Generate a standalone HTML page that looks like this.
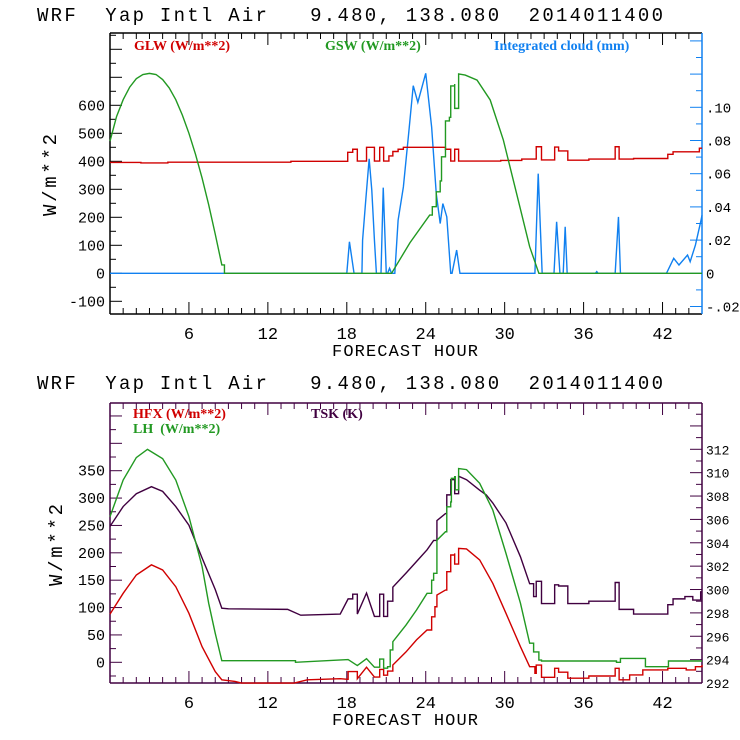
<!DOCTYPE html>
<html><head><meta charset="utf-8"><style>
body{margin:0;background:#fff;}
svg{display:block;}
svg text{white-space:pre;}
.mono{font-family:"Liberation Mono",monospace;}
.leg{font-family:"Liberation Serif",serif;font-weight:bold;font-size:14px;}
</style></head><body>
<svg id="chart" width="740" height="740" xmlns="http://www.w3.org/2000/svg" xml:space="preserve">
<rect width="740" height="740" fill="#fff"/>
<g id="g"></g>
</svg>
<script>
// ---------- data (hour, value) ----------
const xTicks=[6,12,18,24,30,36,42];
const topLeftTicks=[-100,0,100,200,300,400,500,600];
const topRightTicks=[-0.02,0,0.02,0.04,0.06,0.08,0.10];
const topRightLabels=["-.02","0",".02",".04",".06",".08",".10"];
const botLeftTicks=[0,50,100,150,200,250,300,350];
const botRightTicks=[292,294,296,298,300,302,304,306,308,310,312];

const gswH=[0,0.5,1,1.5,2,2.5,3,3.5,4,4.5,5,5.5,6,6.5,7,7.5,8,8.5,8.7,21.4,22.8,24.3,24.5,24.8,24.8,25.1,25.2,25.5,25.5,25.8,25.9,26.2,26.2,26.5,26.5,27.0,27.9,28.9,29.9,30.9,31.9,32.6,45];
const gswV=[472,560,620,665,695,710,714,710,692,662,620,565,500,425,340,245,140,30,0,0,109,208,238,260,291,330,416,446,544,557,669,676,589,589,712,708,690,619,476,286,95,0,0];

const glwH=[0,2.35,4.4,13.75,18.07,18.45,18.8,19.5,20.1,20.5,20.8,21.2,21.5,21.9,22.3,25.5,25.9,26.2,26.5,29.7,31.3,32.4,32.8,33.8,34.1,34.8,36.4,38.4,38.7,39.8,42.4,42.8,44.8,45];
const glwV=[396,394,397,400,432,443,401,450,401,450,401,419,435,443,450,443,401,443,401,403,408,452,405,451,437,404,408,452,408,410,425,434,447,447];

const cldH=[0,18.0,18.2,18.55,19.15,19.2,19.45,19.7,19.9,20.1,20.25,20.6,20.77,21.0,21.1,21.25,21.4,21.65,21.9,22.3,22.7,23.05,23.4,24.0,24.45,24.8,25.1,25.3,25.6,25.9,26.0,26.35,26.6,32.3,32.55,32.85,33.75,33.95,34.2,34.45,34.6,34.75,36.9,37.0,37.1,38.4,38.65,38.8,42.3,42.85,43.25,43.9,44.1,44.5,44.9,45];
const cldV=[0,0,0.019,0,0,0.02,0.045,0.069,0.05,0.02,0,0,0.0516,0,0,0.003,0,0,0.032,0.052,0.084,0.113,0.103,0.1205,0.088,0.048,0.030,0.042,0.034,0,0,0.014,0,0,0.060,0,0,0.031,0,0,0.028,0,0,0.001,0,0,0.034,0,0,0.009,0.005,0.011,0.007,0.017,0.031,0.035];

const lhH=[0,1,2,2.85,4,5,6,7,7.5,8,8.5,14,14.1,18.1,18.8,19.5,20.1,20.5,20.8,21.1,21.3,21.5,22.5,23.3,24.1,24.45,24.6,24.85,25.5,25.6,25.9,25.95,26.2,26.25,26.5,26.5,27.1,28.1,29.1,30.1,31.2,31.9,32.2,32.6,32.8,35,38.5,38.8,40.7,42.4,42.45,45];
const lhV=[266,333,374,389,372,333,266,175,108,53,3,3,0,5,-6,6.7,-9,6,-10.7,-8,22.5,37.6,68,95.5,126,150,162.5,223,238.5,284,293,336,339,315,315,354,352,327,278,199,108,35,19,4,2.4,2.4,0,7,-8,-8,2.4,2.4];

const hfxH=[0,1,2,3.15,4,5,6,7,8,8.5,9.5,10,14,15,17.5,18.05,18.1,18.45,18.8,19.5,20.1,20.5,20.8,21.1,21.5,22.5,23.3,24.1,24.45,24.7,24.85,25.5,25.6,25.9,26.2,26.2,26.5,26.5,27.1,28.1,29.1,30.1,31.2,31.9,32.3,32.4,32.4,32.8,32.8,33.8,34.1,34.8,36.4,38.4,38.7,39.5,40.5,42.4,43.8,44.5,45];
const hfxV=[88,126,159.5,178,168.6,138,89.5,28.5,-17,-32,-35,-38,-38,-32,-30,-31,-17,-17,-30,-9,-27,-13,-23.5,-16,-5,19,41,59,83,101.5,123,132,165.5,196,199,179.5,179.5,208,207,187,144,89.5,28.5,-8,-20,-20,-5,-5,-27.5,-11,-18,-29,-25,-11,-32,-23,-14,-11,-14,-8,-5];

const tskH=[0,1,2,3.15,4,5,6,7,8,8.5,9,13.5,14.5,17.5,18.1,18.45,18.8,19.5,20.1,20.5,20.8,21.1,21.5,22.5,23.3,24.1,24.6,24.85,25.5,25.6,25.9,26.2,26.2,26.5,26.5,27.1,28.1,28.6,29.1,30.1,31.2,31.9,32.2,32.4,32.4,32.8,33.8,34.1,34.8,36.4,38.4,38.7,39.8,42.4,42.8,43.7,44.3,44.9,45];
const tskV=[305.4,307.1,308.2,308.8,308.4,307.1,305.5,302.7,300.0,298.4,298.35,298.3,297.8,297.9,299.2,299.6,297.9,299.7,297.7,299.6,297.7,299.0,300.2,301.4,302.4,303.4,304.2,305.9,306.5,308.1,309.4,309.4,308.2,308.2,309.7,309.4,308.5,308.1,307.4,305.7,302.8,300.5,299.4,299.4,300.7,298.8,300.4,300.3,298.8,299.0,300.6,298.3,297.9,298.7,299.2,299.4,299.1,299.8,299.8];

// ---------- drawing ----------
const NS="http://www.w3.org/2000/svg";
const root=document.getElementById('g');
function el(tag,attrs,parent){const e=document.createElementNS(NS,tag);for(const k in attrs)e.setAttribute(k,attrs[k]);(parent||root).appendChild(e);return e;}
function txt(s,attrs,parent){const e=el('text',attrs,parent);e.textContent=s;return e;}
const X0=110,X1=702,HMAX=45;
const xs=h=>X0+(X1-X0)*h/HMAX;
function lin(d0,d1,p0,p1){return v=>p0+(v-d0)*(p1-p0)/(d1-d0);}

// step: true = always; number = step when hour gap <= number; stepFrom: always step from that hour on
function series(H,V,ys,color,name,step,parent,stepFrom){
  let d='';
  for(let i=0;i<H.length;i++){
    const x=xs(H[i]).toFixed(2),y=ys(V[i]).toFixed(2);
    if(i===0)d='M'+x+' '+y;
    else if(step===true||(typeof step==='number'&&H[i]-H[i-1]<=step)||(stepFrom!==undefined&&H[i-1]>=stepFrom)){d+=' H'+x+' V'+y;}
    else d+=' L'+x+' '+y;
  }
  const p=el('path',{d:d,fill:'none',stroke:color,'stroke-width':1.4},parent);
  
  
}

function panel(o){
  const g=el('g',{});
  
  
  const t=txt(o.title,{x:37,y:o.titleY,'font-size':19,class:'mono',textLength:626,lengthAdjust:'spacing',fill:'#000'},g);
  
  
  const Y0=o.y0,Y1=o.y1;
  for(let h=1;h<HMAX;h++){
    const x=xs(h),len=(h%6===0)?12:6;
    el('line',{x1:x,x2:x,y1:Y1,y2:Y1-len,stroke:o.axis,'stroke-width':1},g);
    el('line',{x1:x,x2:x,y1:Y0,y2:Y0+len,stroke:o.axis,'stroke-width':1},g);
  }
  xTicks.forEach(h=>{
    const l=txt(String(h),{x:xs(h),y:Y1+25,'font-size':17,class:'mono','text-anchor':'middle',fill:'#000'},g);
    
    
  });
  const xt=txt('FORECAST HOUR',{x:405,y:Y1+42,'font-size':17,class:'mono','text-anchor':'middle',textLength:146,fill:'#000'},g);
  
  
  const yt=txt('W/m**2',{x:0,y:0,'font-size':19,class:'mono','text-anchor':'middle',transform:'translate('+o.ylabX+','+o.ylabY+') rotate(-90)',textLength:82,fill:'#000'},g);
  
  
  for(let v=o.lMinor0;v<=o.lMax;v+=o.lMinor){
    const y=o.ly(v);if(y<Y0+2||y>Y1-2)continue;
    const major=(v%(o.lMinor*2)===0);
    el('line',{x1:X0,x2:X0+(major?12:6),y1:y,y2:y,stroke:o.axis,'stroke-width':1},g);
  }
  o.lTicks.forEach(v=>{
    const l=txt(String(v),{x:X0-5,y:o.ly(v)+5,'font-size':15,class:'mono','text-anchor':'end',fill:'#000'},g);
    
    
  });
  for(let i=0;;i++){
    const v=o.rMinor0+i*o.rMinor;const y=o.ry(v);
    if(y<Y0+2)break; if(y>Y1-2)continue;
    const major=(i%2===0);
    el('line',{x1:X1,x2:X1-(major?12:6),y1:y,y2:y,stroke:o.raxis,'stroke-width':1},g);
  }
  o.rTicks.forEach((v,i)=>{
    const l=txt(o.rLabels[i],{x:o.rLabX,y:o.ry(v)+5,'font-size':o.rFont,class:'mono',fill:'#000'},g);
    
    
  });
  el('line',{x1:X0,x2:X1,y1:Y0,y2:Y0,stroke:o.axis,'stroke-width':1.5},g);
  el('line',{x1:X0,x2:X1,y1:Y1,y2:Y1,stroke:o.axis,'stroke-width':1.5},g);
  el('line',{x1:X0,x2:X0,y1:Y0,y2:Y1,stroke:o.axis,'stroke-width':1.5},g);
  el('line',{x1:X1,x2:X1,y1:Y0,y2:Y1,stroke:o.raxis,'stroke-width':1.5},g);
  o.legends.forEach(L=>{
    const l=txt(L[0],{x:L[1],y:L[2],class:'leg',fill:L[3]},g);
    
    
  });
  return g;
}

const tly=lin(0,600,273.3,105.3), try_=lin(0,0.10,273.3,107.3);
const gTop=panel({name:'radiation-panel',title:'WRF  Yap Intl Air   9.480, 138.080  2014011400',titleY:21,y0:33,y1:314,axis:'#000',raxis:'#1080f0',
  ly:tly,lTicks:topLeftTicks,lMinor:50,lMinor0:-150,lMax:850,
  ry:try_,rTicks:topRightTicks,rLabels:topRightLabels,rMinor:0.01,rMinor0:-0.02,rLabX:706,rFont:14,
  ylabX:56,ylabY:175,
  legends:[['GLW (W/m**2)',134,50,'#d00000'],['GSW (W/m**2)',325,50,'#229922'],['Integrated cloud (mm)',494,50,'#1080f0']]});
series(cldH,cldV,try_,'#1080f0','cloud-line',false,gTop);
series(glwH,glwV,tly,'#d00000','glw-line',true,gTop);
series(gswH,gswV,tly,'#229922','gsw-line',0.35,gTop);

const bly=lin(0,350,662.3,470.7), bry=lin(292,312,683,449.3);
const gBot=panel({name:'flux-panel',title:'WRF  Yap Intl Air   9.480, 138.080  2014011400',titleY:389,y0:403,y1:683,axis:'#400040',raxis:'#400040',
  ly:bly,lTicks:botLeftTicks,lMinor:25,lMinor0:-25,lMax:475,
  ry:bry,rTicks:botRightTicks,rLabels:botRightTicks.map(String),rMinor:1,rMinor0:292,rLabX:706,rFont:13,
  ylabX:62,ylabY:545,
  legends:[['HFX (W/m**2)',133,418,'#d00000'],['LH  (W/m**2)',133,433,'#229922'],['TSK (K)',311,418,'#400040']]});
series(tskH,tskV,bry,'#400040','tsk-line',0.45,gBot,32.3);
series(hfxH,hfxV,bly,'#d00000','hfx-line',0.45,gBot,32.3);
series(lhH,lhV,bly,'#229922','lh-line',0.45,gBot,32.7);
</script>
</body></html>
